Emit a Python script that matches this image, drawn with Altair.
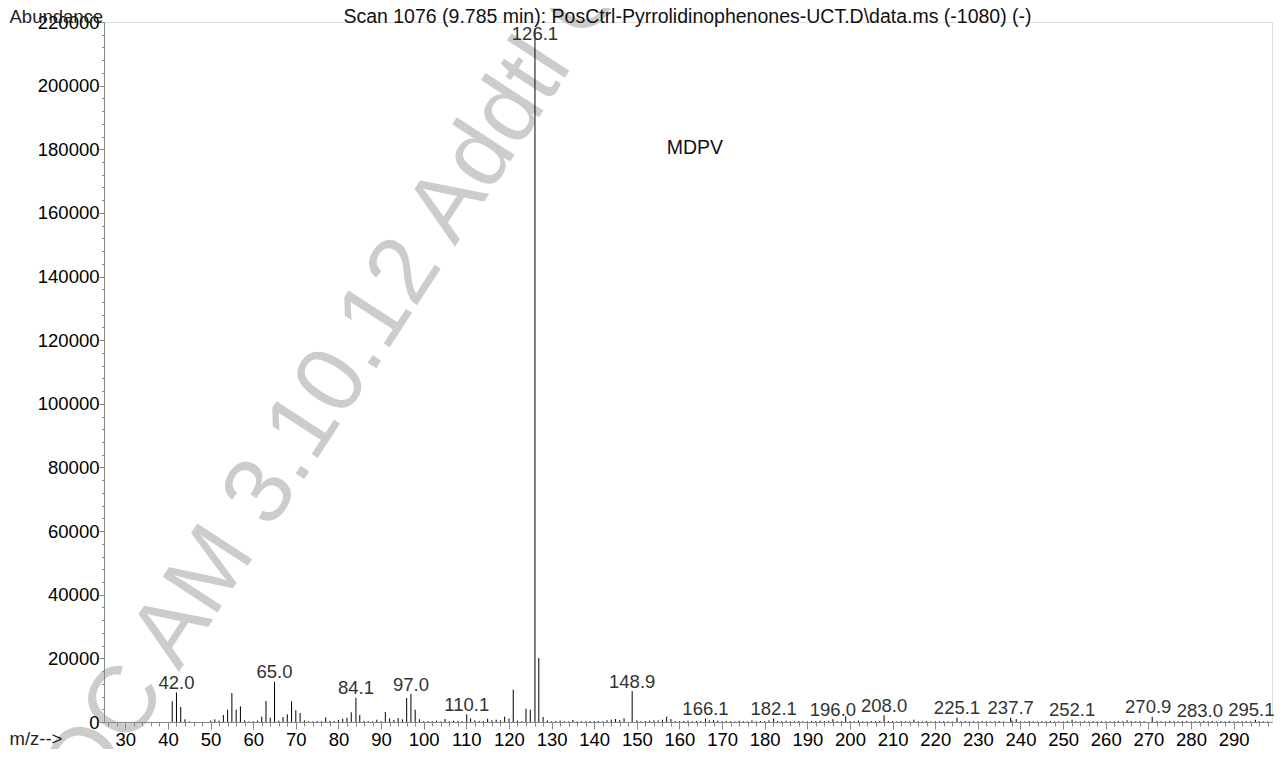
import altair as alt
import pandas as pd

FONT = "Liberation Sans"

# Labelled peaks (m/z, abundance)
label_mz = [42.0, 65.0, 84.1, 97.0, 110.1, 126.1, 148.9, 166.1, 182.1, 196.0,
            208.0, 225.1, 237.7, 252.1, 270.9, 283.0, 295.1]
label_ab = [9300, 12650, 7600, 8800, 2400, 218000, 9700, 1100, 1100, 900,
            2100, 1350, 1350, 700, 1650, 400, 700]

# Unlabelled peaks (m/z, abundance)
minor_mz = [41, 43, 44, 45, 50, 51, 52, 53, 54, 55, 56, 57, 58, 59, 60, 61, 62, 63, 64,
            66, 67, 68, 69, 70, 71, 72, 73, 74, 75, 76, 77, 78, 79, 80, 81, 82, 83, 85,
            86, 87, 88, 89, 90, 91, 92, 93, 94, 95, 96, 98, 99, 100, 101, 102, 103, 104,
            105, 106, 107, 108, 109, 111, 112, 113, 114, 115, 116, 117, 118, 119, 120,
            121, 122, 123, 124, 125, 127, 128, 129, 130, 131, 132, 133, 134, 135, 136,
            137, 138, 139, 140, 141, 142, 143, 144, 145, 146, 147, 150, 151, 152, 153,
            154, 155, 156, 157, 158, 159, 160, 161, 162, 163, 164, 165, 167, 168, 169,
            170, 171, 172, 173, 174, 175, 176, 177, 178, 179, 180, 181, 183, 184, 185,
            186, 187, 188, 189, 190, 191, 192, 193, 194, 195, 197, 198, 199, 200, 201,
            202, 203, 204, 205, 206, 207, 209, 210, 211, 212, 213, 214, 215, 216, 217,
            218, 219, 220, 221, 222, 223, 224, 226, 227, 228, 229, 230, 231, 232, 233,
            234, 235, 236, 238, 239, 240, 241, 242, 243, 244, 245, 246, 247, 248, 249,
            250, 251, 253, 254, 255, 256, 257, 258, 259, 260, 261, 262, 263, 264, 265,
            266, 267, 268, 269, 272, 273, 274, 275, 276, 277, 278, 279, 280, 281, 282,
            284, 285, 286, 287, 288, 289, 290, 291, 292, 293, 294, 296, 297, 298]
minor_ab = [6490, 4710, 840, 200, 420, 840, 420, 2200, 3870, 9110, 3870, 4920, 520, 200,
            250, 420, 1680, 6600, 1360,
            420, 1570, 2410, 6490, 3660, 2830, 520, 250, 200, 300, 250, 1450, 400, 300,
            600, 1000, 1300, 3050, 2200,
            350, 250, 200, 730, 300, 3140, 1150, 630, 1260, 840, 7540, 3870, 840, 250,
            310, 250, 420, 200,
            940, 300, 420, 310, 250, 1150, 520, 310, 310, 1050, 520, 730, 520, 1680, 1050,
            10150, 420, 250, 4190, 3870, 20100, 1570, 520, 250, 310, 420, 250, 200, 630,
            200,
            250, 200, 310, 250, 310, 200, 520, 730, 940, 630, 1150, 520, 250, 310, 420,
            520, 520, 730, 1680, 940, 310, 250, 310, 420, 250, 310, 250, 520, 630, 420,
            250, 310, 250, 200, 420, 250, 200, 520, 250, 310, 250, 520, 310, 250, 420,
            200, 250, 310, 250, 200, 310, 250, 420, 250, 310, 250, 310, 1780, 310, 250,
            420, 250, 200, 310, 250, 310, 310, 250, 200, 310, 250, 200, 730, 250, 200,
            310, 200, 250, 200, 310, 250, 200, 250, 310, 200, 250, 200, 310, 250, 200,
            250, 310, 200, 420, 900, 250, 200, 310, 250, 200, 250, 200, 310, 200, 250,
            200, 310, 250, 200, 250, 200, 310, 200, 250, 200, 250, 200, 310, 250, 520,
            250, 200, 310, 250, 310, 250, 200, 310, 250, 200, 250, 310, 200, 250, 200,
            250, 310, 200, 250, 200, 310, 200, 250, 200, 250, 200, 250, 200, 200]

x_ticks = list(range(26, 299, 2))
y_ticks = list(range(0, 220001, 4000))

title_text = "Scan 1076 (9.785 min): PosCtrl-Pyrrolidinophenones-UCT.D\\data.ms (-1080) (-)"
compound = "MDPV"
watermark = "DOC AM 3.10.12 Addtl C"

peaks = pd.DataFrame({
    "mz": label_mz + minor_mz,
    "ab": label_ab + minor_ab,
    "label": [f"{m:.1f}" for m in label_mz] + [""] * len(minor_mz),
})

xscale = alt.Scale(domain=[25, 299], nice=False, zero=False)
yscale = alt.Scale(domain=[0, 220000], nice=False)

xaxis = alt.Axis(
    values=x_ticks,
    labelExpr="datum.value % 10 === 0 ? datum.label : ''",
    tickSize={"condition": {"test": "datum.value % 10 === 0", "value": 7}, "value": 4},
    labelOverlap=False, labelFlush=False, labelPadding=1, labelFontSize=18.5,
    labelColor="black", format="d", grid=False, ticks=True, zindex=1,
    title="m/z-->", titleX=-95, titleY=22, titleAlign="left",
    titleBaseline="alphabetic", titleFontWeight="normal", titleFontSize=18.5,
    titleColor="#222",
)
yaxis = alt.Axis(
    values=y_ticks,
    labelExpr="datum.value % 20000 === 0 ? datum.label : ''",
    tickSize={"condition": {"test": "datum.value % 20000 === 0", "value": 5}, "value": 2.5},
    labelOverlap=False, labelFlush=False, labelPadding=0, labelFontSize=18.5,
    labelColor="black", format="d", grid=False, ticks=True, zindex=1,
    title="Abundance", titleAngle=0, titleX=-95, titleY=0.5, titleAlign="left",
    titleBaseline="alphabetic", titleFontWeight="normal", titleFontSize=18.5,
    titleColor="#222",
)

wm = alt.Chart(pd.DataFrame({"t": [watermark]})).mark_text(
    angle=303, align="left", baseline="alphabetic", fontSize=95, color="#cccccc"
).encode(x=alt.value(-51.8), y=alt.value(845), text="t:N")

rules = alt.Chart(peaks).mark_rule(color="black", strokeWidth=1).encode(
    x=alt.X("mz:Q", scale=xscale, axis=xaxis),
    y=alt.Y("ab:Q", scale=yscale, axis=yaxis),
    y2=alt.datum(0),
)


def peak_labels(test, dx):
    return alt.Chart(peaks).transform_filter(test).transform_calculate(
        ly="min(datum.ab, 213200)"
    ).mark_text(dy=-3.5, dx=dx, baseline="alphabetic", align="center", fontSize=18.5,
                color="#333").encode(
        x=alt.X("mz:Q", scale=xscale, axis=xaxis),
        y=alt.Y("ly:Q", scale=yscale, axis=yaxis),
        text="label:N",
    )


labels_main = peak_labels("datum.label != '' && datum.mz < 265", 0)
labels_right = peak_labels("datum.label != '' && datum.mz >= 265", -4)

name = alt.Chart(pd.DataFrame({"t": [compound]})).mark_text(
    align="left", baseline="alphabetic", fontSize=19.5, color="#111"
).encode(
    x=alt.datum(157.0, scale=xscale, axis=xaxis),
    y=alt.datum(178450, scale=yscale, axis=yaxis),
    text="t:N",
)

title = alt.Chart(pd.DataFrame({"t": [title_text]})).mark_text(
    align="center", baseline="alphabetic", fontSize=19.5, color="#111"
).encode(x=alt.value(583.5), y=alt.value(0.8), text="t:N")

chart = alt.layer(wm, rules, labels_main, labels_right, name, title).properties(
    width=1168, height=700,
    autosize=alt.AutoSizeParams(type="none"),
    padding={"left": 96, "top": 14, "right": 4, "bottom": 27},
).configure_view(stroke=None).configure_axis(
    labelFont=FONT, titleFont=FONT, domainColor="black", tickColor="black",
    domainWidth=1, tickWidth=1,
).configure_text(font=FONT).configure(background="white")

chart.save("out.html", embed_options={"renderer": "svg", "actions": False})
